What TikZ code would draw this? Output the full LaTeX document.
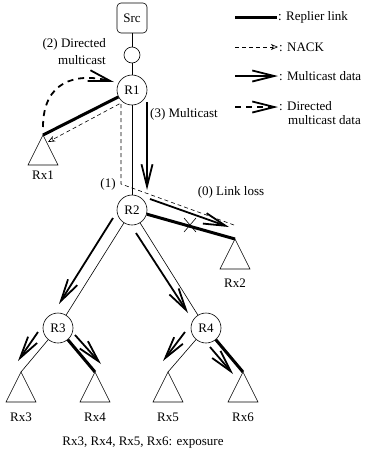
\documentclass[tikz,border=0pt]{standalone}
\usepackage{fontspec}
\setmainfont{Liberation Serif}
\usetikzlibrary{arrows.meta,calc}
\begin{document}
\begin{tikzpicture}[x=1pt,y=-1pt,
  every node/.style={font=\fontsize{13}{15}\selectfont},
  rtr/.style={draw,circle,minimum size=30pt,inner sep=0pt,line width=0.6pt},
  thin link/.style={line width=0.6pt},
  replier/.style={line width=3pt},
  mdata/.style={line width=1.8pt,-{Straight Barb[length=22pt,width=11pt]}},
  dmdata/.style={mdata,dash pattern=on 6pt off 5pt},
  nack/.style={line width=0.6pt,dash pattern=on 4pt off 3pt,-{Stealth[open,length=7pt,width=6pt,inset=2pt]}},
  tri/.style={line width=0.6pt},
  lbl/.style={inner sep=1pt}]
\useasboundingbox (0,0) rectangle (365,458);
% nodes
\node[draw,rounded corners=4pt,minimum size=30pt,inner sep=0pt,line width=0.6pt] (src) at (132,18) {Src};
\node[draw,circle,minimum size=16pt,inner sep=0pt,line width=0.6pt] (hop) at (132,55) {};
\node[rtr] (r1) at (132,90) {R1};
\node[rtr] (r2) at (132,210) {R2};
\node[rtr] (r3) at (58,328) {R3};
\node[rtr] (r4) at (206,328) {R4};
% receiver apexes
\coordinate (x1) at (43,135);
\coordinate (x2) at (235,239);
\coordinate (x3) at (21,372);
\coordinate (x4) at (95,372);
\coordinate (x5) at (168,372);
\coordinate (x6) at (243,372);
\foreach \c in {x1,x2,x3,x4,x5,x6}
  \draw[tri] (\c) -- ++(-15,30) -- ++(30,0) -- cycle;
\node[lbl] (l1) at (43,175) {Rx1};
\node[lbl] (l2) at (235,283) {Rx2};
\node[lbl] (l3) at (21,417) {Rx3};
\node[lbl] (l4) at (95,417) {Rx4};
\node[lbl] (l5) at (168,417) {Rx5};
\node[lbl] (l6) at (243,417) {Rx6};
% tree links
\draw[thin link] (src) -- (hop) -- (r1) -- (r2);
\draw[replier] (r1) -- (x1);
\draw[replier] (r2) -- (x2);
\draw[thin link] (r2) -- (r3);
\draw[thin link] (r2) -- (r4);
\draw[thin link] (r3) -- (x3);
\draw[replier] (r3) -- (x4);
\draw[thin link] (r4) -- (x5);
\draw[replier] (r4) -- (x6);
% NACK path
\coordinate (nk0) at (234,225);
\coordinate (nk1) at (121,184);
\coordinate (nk2) at (121,103);
\coordinate (nk3) at (48,142);
\draw[nack] (nk0) -- (nk1) -- (nk2) -- (nk3);
% directed multicast (curved)
\coordinate (dm0) at (43,127);
\coordinate (dm1) at (114,82);
\draw[dmdata] (dm0) .. controls (43,82) and (75,72) .. (dm1);
% multicast data arrows
\draw[mdata] (147,102) -- (147,190);
\draw[mdata] (150,199) -- (229,227);
\draw[mdata] (113,218) -- (59,304);
\draw[mdata] (136,233) -- (188,313);
\draw[mdata] (38,332) -- (18,361);
\draw[mdata] (75,335) -- (101,364);
\draw[mdata] (185,332) -- (163,361);
\draw[mdata] (210,347) -- (233,374);
% link loss mark
\coordinate (xl) at (190,225);
\draw[thin link] ($(xl)+(-6,-7)$) -- ($(xl)+(6,7)$);
\draw[thin link] ($(xl)+(-6,7)$) -- ($(xl)+(6,-7)$);
% labels
\node[lbl,anchor=east,align=right] (t2) at (107,52) {(2) Directed\\[2pt]multicast};
\node[lbl,anchor=west] (t3) at (149,114) {(3) Multicast};
\node[lbl] (t1) at (108,184) {(1)};
\node[lbl] (t0) at (231,192) {(0) Link loss};
\node[lbl] (cap) at (143,443) {Rx3, Rx4, Rx5, Rx6: exposure};
% legend
\draw[replier] (235,17) -- (277,17);
\node[lbl,anchor=west] at (277,17) {: Replier link};
\draw[nack] (235,47) -- (278,47);
\node[lbl,anchor=west] at (278,47) {: NACK};
\draw[mdata] (235,76) -- (278,76);
\node[lbl,anchor=west] at (278,76) {: Multicast data};
\draw[dmdata] (235,107) -- (278,107);
\node[lbl,anchor=west] at (278,106) {: Directed};
\node[lbl,anchor=west] at (287,120) {multicast data};
\end{tikzpicture}
\end{document}
